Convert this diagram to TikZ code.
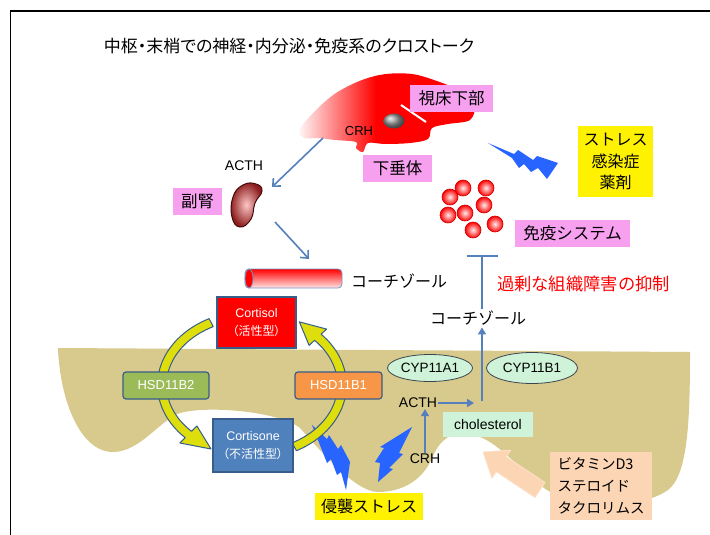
\documentclass[tikz,border=0pt]{standalone}
\usepackage{fontspec}
\setmainfont{Liberation Sans}
\newfontfamily\jp{Noto Sans CJK JP}
\newfontfamily\jpp[RawFeature=+palt]{Noto Sans CJK JP}
\usetikzlibrary{arrows.meta,shapes.geometric,calc}

\definecolor{pinklbl}{RGB}{247,160,240}
\definecolor{tanbg}{RGB}{216,201,140}
\definecolor{mint}{RGB}{206,243,216}
\definecolor{steel}{RGB}{84,128,190}
\definecolor{boltblue}{RGB}{40,100,255}
\definecolor{edgeblue}{RGB}{56,93,138}
\definecolor{hsdgreen}{RGB}{155,187,89}
\definecolor{hsdorange}{RGB}{247,150,70}
\definecolor{cortblue}{RGB}{79,129,189}
\definecolor{peach}{RGB}{252,213,181}
\definecolor{cycyellow}{RGB}{222,222,12}
\definecolor{kidney}{RGB}{140,30,30}
\definecolor{kidneyedge}{RGB}{70,10,10}
\definecolor{cypedge}{RGB}{60,70,80}

\tikzset{
  jplabel/.style={font=\jp\fontsize{16}{19}\selectfont, inner sep=2pt},
  pinkbox/.style={fill=pinklbl, inner sep=0pt, minimum height=27pt, font=\jp\fontsize{16.5}{19}\selectfont},
  yelbox/.style={fill=yellow, inner sep=0pt, font=\jp\fontsize{16}{21.5}\selectfont},
  latlabel/.style={font=\fontsize{14}{16}\selectfont, inner sep=1pt},
  bluearr/.style={draw=steel, line width=1.6pt, -{Straight Barb[length=6pt,width=11pt]}},
  bluearrb/.style={draw=steel, line width=1.6pt, -{Triangle[length=7pt,width=8pt]}},
  inhib/.style={draw=steel, line width=1.6pt, -{Bar[width=31pt,line width=1.6pt]}},
  cypell/.style={ellipse, draw=cypedge, line width=0.8pt, fill=mint, inner sep=0pt, font=\fontsize{13.5}{16}\selectfont},
  cycbox/.style={draw=edgeblue, line width=1.2pt, text=white, align=center, inner sep=0pt, font=\fontsize{12.5}{18}\selectfont},
  hsdbox/.style={cycbox, rounded corners=3pt, minimum height=27pt, font=\fontsize{13}{16}\selectfont},
  bolt/.style={fill=boltblue},
  cell/.style={circle, minimum size=16pt, inner sep=0pt, draw=red!80!black, line width=0.6pt, inner color=red!8!white, outer color=red},
  cycarrow/.style={fill=cycyellow, draw=edgeblue, line width=1pt, line join=round},
  cylbar/.style={minimum width=97pt, minimum height=19pt, inner sep=0pt, rounded corners=4pt, draw=steel!80, line width=0.8pt, top color=red, middle color=red!6!white, bottom color=red!10!white},
}

\begin{document}
\begin{tikzpicture}[x=1pt,y=-1pt]
\useasboundingbox (0,0) rectangle (710,535);
\fill[white] (0,0) rectangle (710,535);

% frame
\draw[line width=1.8pt] (10.5,536) -- (10.5,11) -- (711,11);

% title
\node[font=\jpp\fontsize{17}{20}\selectfont] (title) at (289,46) {中枢・末梢での神経・内分泌・免疫系のクロストーク};

% tissue region
\fill[tanbg] (58,348) -- (690,352)
  .. controls (690,420) and (688,475) .. (668,490)
  .. controls (640,510) and (570,510) .. (540,485)
  .. controls (515,465) and (495,438) .. (470,434)
  .. controls (450,431) and (440,440) .. (432,458)
  .. controls (422,482) and (400,492) .. (378,492)
  .. controls (355,492) and (320,450) .. (300,428)
  .. controls (280,412) and (210,405) .. (180,413)
  .. controls (160,420) and (140,452) .. (113,452)
  .. controls (80,452) and (60,400) .. (58,348) -- cycle;

% hypothalamus / pituitary
\begin{scope}
  \clip plot[smooth cycle, tension=0.55] coordinates {(300,129) (315,111) (336,93) (362,80) (386,74) (412,74) (434,80) (458,90) (474,105) (470,120) (448,124) (432,128) (428,139) (410,143) (385,144) (368,143) (363,152) (356,148) (356,142) (335,140) (318,138) (304,138)};
  \shade[left color=white, right color=red] (296,60) rectangle (376,160);
  \fill[red] (375.5,60) rectangle (480,160);
\end{scope}
\draw[white, line width=2pt] (401,105) -- (426,122);
\shade[ball color=gray!80] (394,121) ellipse [x radius=10.5pt, y radius=7.5pt];

% adrenal gland
\shadedraw[inner color=red!22!white, outer color=kidney, draw=kidneyedge, line width=1pt]
  plot[smooth cycle, tension=0.8] coordinates {(243,185) (256,184) (262,191) (255,203) (251,219) (240,227) (232,217) (233,197)};

% cortisol bar
\node[cylbar] (bar) at (293.5,278.5) {};
\filldraw[fill=red, draw=steel!80, line width=0.8pt] (249,278.5) ellipse [x radius=4pt, y radius=9.5pt];

% immune cells
\node[cell] (c1) at (450,197) {};
\node[cell] (c2) at (463,188) {};
\node[cell] (c3) at (486,188) {};
\node[cell] (c4) at (484,205) {};
\node[cell] (c5) at (465,213) {};
\node[cell] (c6) at (448,215) {};
\node[cell] (c7) at (473,230) {};
\node[cell] (c8) at (495,224) {};

% lightning bolts
\fill[bolt] (488,143) -- (514,154) -- (518,150) -- (533,160) -- (537,156) -- (558,163) -- (547,179) -- (538,168) -- (531,172) -- (524,164) -- (519,168) -- (512,158) -- cycle;
\fill[bolt] (312,425) -- (327,439) -- (329,435) -- (338,449) -- (341,445) -- (350,462) -- (346,490) -- (341,472) -- (337,475) -- (331,459) -- (327,463) -- cycle;
\fill[bolt] (412,427) -- (399,453) -- (403,454) -- (389,468) -- (393,469) -- (378,482) -- (380,463) -- (375,462) -- (384,448) -- (380,447) -- cycle;

% cortisol / cortisone cycle arrows
\filldraw[cycarrow] plot[domain=117:225, samples=40] ({252+94.5*cos(\x)},{385-74.5*sin(\x)})
  -- (179.9,443.0) -- (211,449) -- (196.9,426.0)
  -- plot[domain=225:117, samples=40] ({252+85.5*cos(\x)},{385-65.5*sin(\x)}) -- cycle;
\filldraw[cycarrow] plot[domain=-62:43, samples=40] ({252+94.5*cos(\x)},{385-74.5*sin(\x)})
  -- (326.6,329.1) -- (299.4,321.9) -- (309.1,345.4)
  -- plot[domain=43:-62, samples=40] ({252+85.5*cos(\x)},{385-65.5*sin(\x)}) -- cycle;

\node[cycbox, fill=red, minimum width=79pt, minimum height=51pt] (cortisol) at (256.5,322.5) {Cortisol\\{\jpp\fontsize{12}{18}\selectfont （活性型）}};
\node[cycbox, fill=cortblue, minimum width=80pt, minimum height=53pt] (cortisone) at (253,445.5) {Cortisone\\{\jpp\fontsize{12}{18}\selectfont （不活性型）}};
\node[hsdbox, fill=hsdgreen, minimum width=86pt] (hsdb2) at (166,385.5) {HSD11B2};
\node[hsdbox, fill=hsdorange, minimum width=87pt] (hsdb1) at (338.5,385.5) {HSD11B1};

% labels
\node[pinkbox, minimum width=83pt] (hypo) at (451.5,98.5) {視床下部};
\node[pinkbox, minimum width=69pt] (pit) at (397.5,168.5) {下垂体};
\node[pinkbox, minimum width=49pt] (adlbl) at (197.5,201.5) {副腎};
\node[pinkbox, minimum width=115pt] (immlbl) at (572.5,233.5) {免疫システム};
\node[yelbox, minimum width=75pt, minimum height=71pt, align=center] (stress) at (615.5,161.5) {ストレス\\感染症\\薬剤};
\node[yelbox, minimum width=108pt, minimum height=27pt] (inv) at (369,506.5) {侵襲ストレス};
\node[fill=peach, minimum width=102pt, minimum height=68pt, inner sep=0pt, align=left, font=\jp\fontsize{14.5}{22}\selectfont] (drugs) at (601,486) {ビタミンD3\\ステロイド\\タクロリムス};

\node[latlabel, font=\fontsize{13}{15}\selectfont] (crhA) at (359,131) {CRH};
\node[latlabel] (acthA) at (244,166) {ACTH};
\node[jplabel] (cortA) at (399,281) {コーチゾール};
\node[jplabel] (cortB) at (478,318) {コーチゾール};
\node[jplabel, text=red, font=\jp\fontsize{17.3}{20}\selectfont] (supp) at (583.5,284) {過剰な組織障害の抑制};

\node[cypell, minimum width=85pt, minimum height=27pt] (cypa) at (430,368) {CYP11A1};
\node[cypell, minimum width=91pt, minimum height=31pt] (cypb) at (532,368) {CYP11B1};
\node[latlabel] (acthB) at (418,403) {ACTH};
\node[fill=mint, minimum width=90pt, minimum height=25pt, inner sep=0pt, font=\fontsize{14}{16}\selectfont] (chol) at (488,424.5) {cholesterol};
\node[latlabel] (crhB) at (425,459) {CRH};

% signalling arrows
\coordinate (brainout) at (323,138);
\coordinate (adrin) at (272,187);
\coordinate (adrout) at (275,222);
\coordinate (barin) at (309,259);
\coordinate (tb) at (482,255);
\coordinate (junction) at (482,401);
\coordinate (acthend) at (474,403);
\draw[bluearr] (brainout) -- (adrin);
\draw[bluearr] (adrout) -- (barin);
\draw[inhib] (cortB.north -| tb) -- (tb);
\draw[bluearrb] (acthB.east) -- (acthend);
\draw[bluearrb] (junction) -- (junction |- cortB.south);
\draw[bluearrb] (crhB.north) -- (crhB.north |- acthB.south);

% block arrow from the drug box
\filldraw[fill=peach, draw=peach!70!white, line width=0.8pt]
  (545,482.5) -- (506.3,456.7) -- (510.7,450.1) -- (483,452) -- (491.9,478.3) -- (496.3,471.7) -- (535,497.5) -- cycle;
\end{tikzpicture}
\end{document}
